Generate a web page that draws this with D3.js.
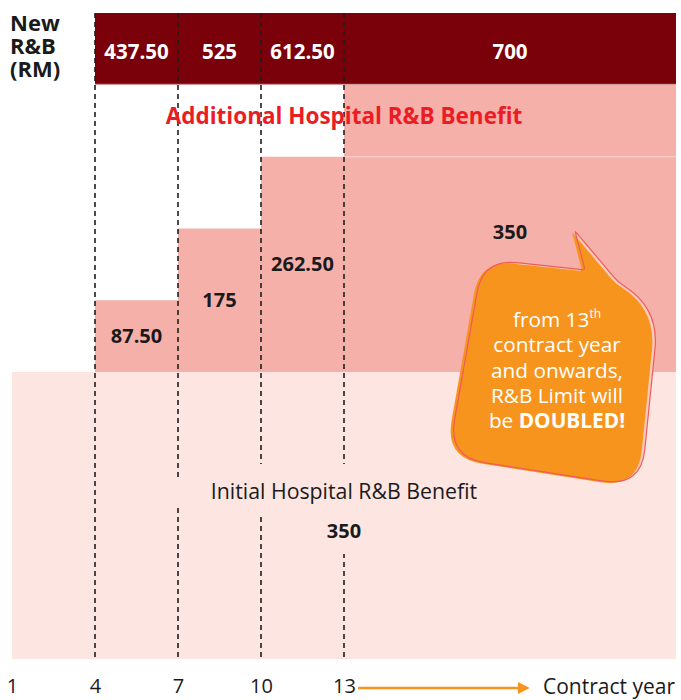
<!DOCTYPE html>
<html><head><meta charset="utf-8">
<script src="https://cdn.jsdelivr.net/npm/d3@7"></script>
<style>body{margin:0;background:#fff} svg{display:block;font-family:"Open Sans",sans-serif}</style>
</head><body><svg id="c" width="681" height="700"></svg>
<script>
// ---- data ----
const years = [1, 4, 7, 10, 13];
const lastYear = 25;
const stepStart = [4, 7, 10, 13];
const stepEnd = [7, 10, 13, 25];
const initialValue = 350;
const additionalValues = [87.5, 175, 262.5, 350];
const newRBValues = [437.5, 525, 612.5, 700];
const newRBLabels = ["437.50", "525", "612.50", "700"];
const additionalLabels = ["87.50", "175", "262.50", "350"];
const initialLabel = "350";
const headerTitle = ["New", "R&B", "(RM)"];
const additionalTitle = "Additional Hospital R&B Benefit";
const initialTitle = "Initial Hospital R&B Benefit";
const axisTitle = "Contract year";
const bubbleLines = [["from 13", "th"], ["contract year"], ["and onwards,"], ["R&B Limit will"], ["be ", "DOUBLED!"]];

// ---- layout ----
const svg = d3.select("#c");
const x = d3.scaleLinear().domain([1, lastYear]).range([12, 676]);
const y = d3.scaleLinear().domain([0, 700]).range([659, 85]);
const headerTop = 13, headerBottom = 84;
const C = {dark:"#7a0009", add:"#f6b0aa", init:"#fde6e1", red:"#ec1c24", orange:"#f7941d", text:"#1a1a1a"};

// initial benefit
svg.append("rect").attr("x", x(1)).attr("width", x(lastYear) - x(1))
  .attr("y", y(initialValue)).attr("height", y(0) - y(initialValue)).attr("fill", C.init);

// additional benefit steps
svg.selectAll("rect.add").data(additionalValues).join("rect").attr("class","add")
  .attr("x", (d,i) => x(stepStart[i])).attr("width", (d,i) => x(stepEnd[i]) - x(stepStart[i]))
  .attr("y", d => y(initialValue + d)).attr("height", d => y(initialValue) - y(initialValue + d))
  .attr("fill", C.add);
// faint divider in last step at previous level
svg.append("line").attr("x1", x(13)).attr("x2", x(lastYear))
  .attr("y1", y(initialValue + additionalValues[2])).attr("y2", y(initialValue + additionalValues[2]))
  .attr("stroke", "#fbd6d1").attr("stroke-width", 1.2);

// header band
svg.append("rect").attr("x", x(4)).attr("width", x(lastYear) - x(4))
  .attr("y", headerTop).attr("height", headerBottom - headerTop).attr("fill", C.dark);
svg.append("line").attr("x1", x(4)).attr("x2", x(lastYear)).attr("y1", headerBottom).attr("y2", headerBottom)
  .attr("stroke", "#a8333a").attr("stroke-width", 1);

// title texts with backdrops
const initT = svg.append("text").attr("x", x(13)).attr("y", 499).attr("text-anchor","middle")
  .attr("font-size", 21.3).attr("fill", C.text).text(initialTitle);
const initV = svg.append("text").attr("x", x(13)).attr("y", 538).attr("text-anchor","middle")
  .attr("font-size", 20).attr("font-weight", 700).attr("fill", C.text).text(initialLabel);

// dashed year lines
const dashYears = years.slice(1);
const dashG = svg.insert("g", "text");
dashG.selectAll("line").data(dashYears).join("line")
  .attr("x1", d => x(d)).attr("x2", d => x(d)).attr("y1", headerTop).attr("y2", 657)
  .attr("stroke", "#1f1f1f").attr("stroke-width", 1.6).attr("stroke-dasharray", "5,4");
// backdrops so dashed lines break behind labels
const tb = initT.node().getBBox(), vb = initV.node().getBBox();
svg.insert("rect", "text").attr("x", x(7) - 3).attr("y", tb.y + 4).attr("width", tb.x + tb.width - x(7) + 6)
  .attr("height", tb.height - 5).attr("fill", C.init);
svg.insert("rect", "text").attr("x", vb.x - 6).attr("y", tb.y - 12).attr("width", vb.width + 12)
  .attr("height", vb.y + vb.height + 10 - tb.y + 12).attr("fill", C.init);
svg.insert("rect", "text").attr("x", x(10) - 4).attr("y", tb.y - 12).attr("width", 8)
  .attr("height", tb.height + 22).attr("fill", C.init);

// header labels
const hg = svg.append("text").attr("font-weight", 700).attr("font-size", 22).attr("fill", C.text);
headerTitle.forEach((t, i) => hg.append("tspan").attr("x", 10).attr("y", 31 + i * 23).text(t));
svg.selectAll("text.nrb").data(newRBValues).join("text").attr("class","nrb")
  .attr("x", (d,i) => x((stepStart[i] + stepEnd[i]) / 2)).attr("y", 59)
  .attr("text-anchor","middle").attr("font-size", 20.5).attr("font-weight", 700).attr("fill", "#fff")
  .text((d,i) => newRBLabels[i]);

svg.append("text").attr("x", x(13)).attr("y", 124).attr("text-anchor","middle")
  .attr("font-size", 22.5).attr("font-weight", 700).attr("fill", C.red).text(additionalTitle);

// additional labels
svg.selectAll("text.addl").data(additionalValues).join("text").attr("class","addl")
  .attr("x", (d,i) => x((stepStart[i] + stepEnd[i]) / 2))
  .attr("y", d => (y(initialValue + d) + y(initialValue)) / 2 + 7 + (d > 300 ? 3 : 0))
  .attr("text-anchor","middle").attr("font-size", 20).attr("font-weight", 700).attr("fill", C.text)
  .text((d,i) => additionalLabels[i]);

// ---- speech bubble ----
const bx = x(19) + 40, by = y(initialValue);
const bubblePts = [[-70,-112,34],[32,-101,3],[22,-140,2],[65,-89,6],[106,-62,40],[88,116,38],[-105,86,38]];
function roundedPath(pts){
  let d = ""; const n = pts.length;
  pts.forEach((p, i) => {
    const pr = pts[(i - 1 + n) % n], nx = pts[(i + 1) % n], r = p[2];
    const l1 = Math.hypot(pr[0]-p[0], pr[1]-p[1]), l2 = Math.hypot(nx[0]-p[0], nx[1]-p[1]);
    const a = [p[0] + (pr[0]-p[0]) / l1 * r, p[1] + (pr[1]-p[1]) / l1 * r];
    const b = [p[0] + (nx[0]-p[0]) / l2 * r, p[1] + (nx[1]-p[1]) / l2 * r];
    d += (i === 0 ? "M" : "L") + a[0] + "," + a[1] + "Q" + p[0] + "," + p[1] + " " + b[0] + "," + b[1];
  });
  return d + "Z";
}
const bd = roundedPath(bubblePts);
const bg = svg.append("g").attr("transform", `translate(${bx},${by})`);
bg.append("path").attr("d", bd).attr("transform", "translate(3,-1)").attr("fill", "#fbc9bd");
bg.append("path").attr("d", bd).attr("fill", C.orange);
bg.append("path").attr("d", bd).attr("transform", "translate(3,-1)").attr("fill", "none")
  .attr("stroke", "#ef5b5b").attr("stroke-width", 1.2);
const bt = svg.append("text").attr("text-anchor","middle").attr("font-size", 20.8).attr("fill", "#fff");
bubbleLines.forEach((ln, i) => {
  const t = bt.append("tspan").attr("x", 557).attr("y", 327 + i * 25.3);
  t.text(ln[0]);
  if (i === 0) t.append("tspan").attr("font-size", 12).attr("dy", -9).text(ln[1]);
  else if (ln[1]) t.append("tspan").attr("font-weight", 700).text(ln[1]);
});

// ---- axis ----
const axis = d3.axisBottom(x).tickValues(years).tickSize(0).tickPadding(0).tickFormat(d3.format("d"));
const ag = svg.append("g").attr("transform", "translate(0,679)").call(axis);
ag.select(".domain").remove();
ag.selectAll("text").attr("font-size", 20).attr("font-family", "Open Sans").attr("fill", C.text);

const defs = svg.append("defs");
defs.append("marker").attr("id","arr").attr("viewBox","0 0 10 10").attr("refX", 1).attr("refY", 5)
  .attr("markerWidth", 4.6).attr("markerHeight", 6).attr("orient","auto").attr("markerUnits","strokeWidth")
  .append("path").attr("d","M0,0L10,5L0,10Z").attr("fill", C.orange);
svg.append("line").attr("x1", 358).attr("x2", 519).attr("y1", 688).attr("y2", 688)
  .attr("stroke", C.orange).attr("stroke-width", 2.6).attr("marker-end", "url(#arr)");
svg.append("text").attr("x", 543).attr("y", 694).attr("font-size", 21).attr("fill", C.text).text(axisTitle);
</script></body></html>
